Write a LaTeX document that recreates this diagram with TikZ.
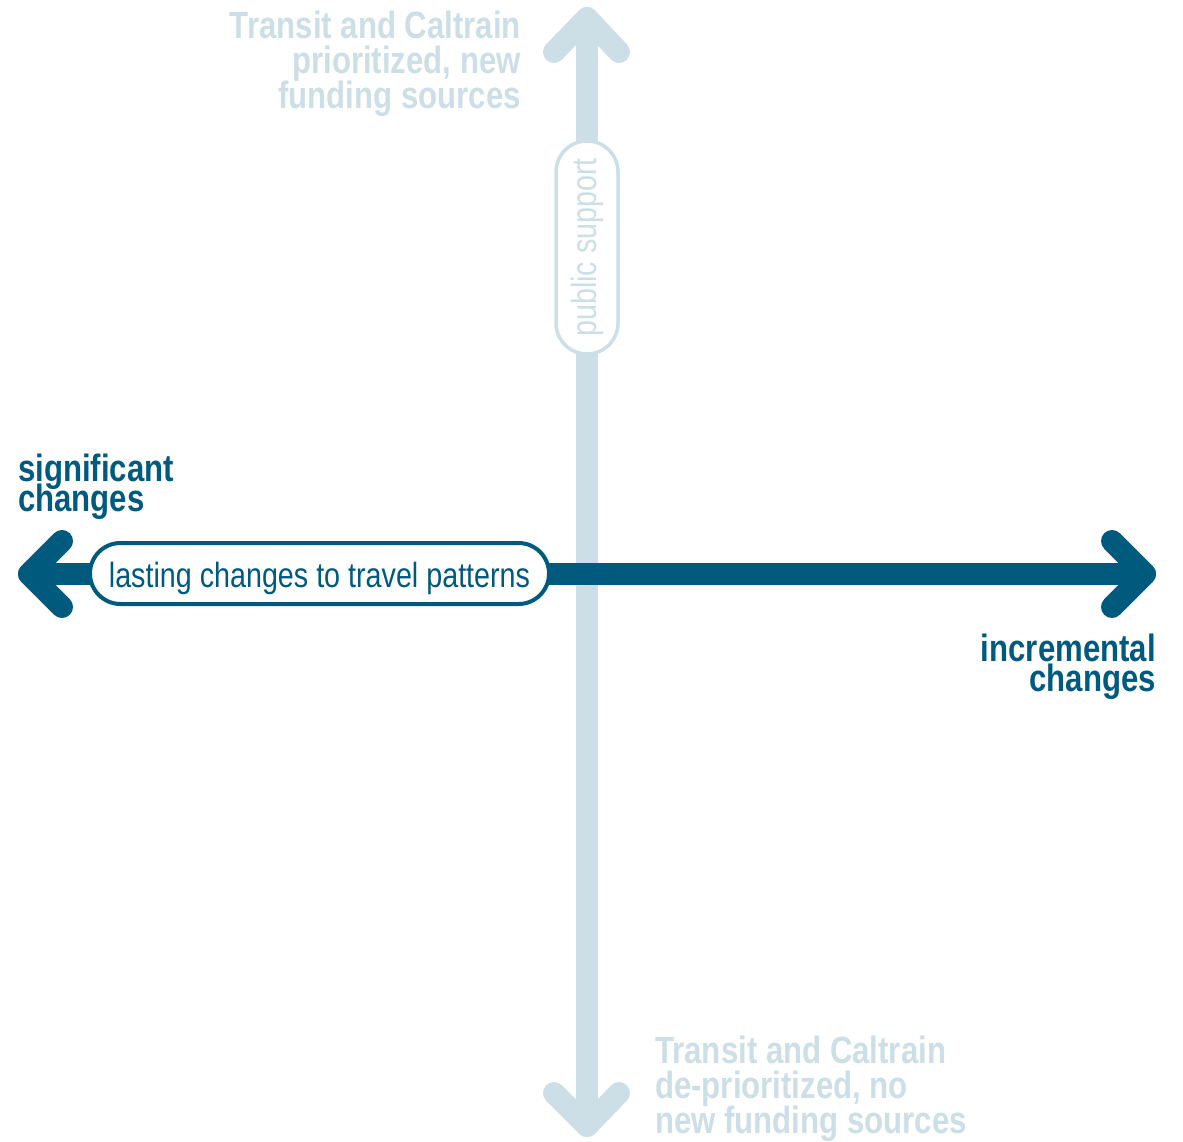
\documentclass[tikz,border=0pt]{standalone}
\usepackage{fontspec}
\setmainfont{Liberation Sans}[FakeStretch=0.82]
\usetikzlibrary{shapes.misc}
\definecolor{axdark}{RGB}{0,90,125}
\definecolor{axlight}{RGB}{204,222,230}
\newcommand{\mytightlines}{\lineskiplimit=-100pt\relax\lineskip=0pt\relax}
\tikzset{
  axisline/.style={line width=22pt, line cap=round, line join=round},
  headline/.style={line width=22pt, line cap=round, line join=round},
  pill/.style={rounded rectangle, fill=white, inner sep=0pt},
  bigtxt/.style={inner sep=0pt, font=\bfseries\fontsize{38}{35}\selectfont\mytightlines},
  endtxt/.style={inner sep=0pt, font=\bfseries\fontsize{38}{30}\selectfont\mytightlines}
}
\begin{document}
\begin{tikzpicture}[x=1pt,y=1pt]
\useasboundingbox (0,0) rectangle (1183,-1142);
% vertical axis
\coordinate (vtop) at (587,-18);
\coordinate (vbot) at (587,-1126);
\coordinate (vtl) at (554,-52);
\coordinate (vtr) at (619,-52);
\coordinate (vbl) at (554,-1093);
\coordinate (vbr) at (619,-1093);
\draw[axlight, axisline] (vtop) -- (vbot);
\draw[axlight, headline] (vtl) -- (vtop) -- (vtr);
\draw[axlight, headline] (vbl) -- (vbot) -- (vbr);
\node[pill, draw=axlight, line width=3.5pt, rotate=90, minimum width=213pt, minimum height=62pt,
      text=axlight, font=\fontsize{35}{35}\selectfont] (ps) at (587,-247.5) {public support};
% horizontal axis
\coordinate (hl) at (29,-574);
\coordinate (hr) at (1145,-574);
\coordinate (hlt) at (62,-541);
\coordinate (hlb) at (62,-607);
\coordinate (hrt) at (1112,-541);
\coordinate (hrb) at (1112,-607);
\draw[axdark, axisline] (hl) -- (hr);
\draw[axdark, headline] (hlt) -- (hl) -- (hlb);
\draw[axdark, headline] (hrt) -- (hr) -- (hrb);
\node[pill, draw=axdark, line width=4pt, minimum width=459pt, minimum height=61pt,
      text height=30pt, text depth=3pt,
      text=axdark, font=\fontsize{35}{35}\selectfont] (lc) at (319.5,-573.5) {lasting changes to travel patterns};
% labels
\node[bigtxt, text=axlight, anchor=north east, align=right] (top) at (521,-11)
  {Transit and Caltrain\\prioritized, new\\funding sources};
\node[bigtxt, text=axlight, anchor=north west, align=left] (bot) at (655,-1036)
  {Transit and Caltrain\\de-prioritized, no\\new funding sources};
\node[endtxt, text=axdark, anchor=north west, align=left] (sig) at (18,-454)
  {significant\\changes};
\node[endtxt, text=axdark, anchor=north east, align=right] (inc) at (1156,-634)
  {incremental\\changes};
\end{tikzpicture}
\end{document}
